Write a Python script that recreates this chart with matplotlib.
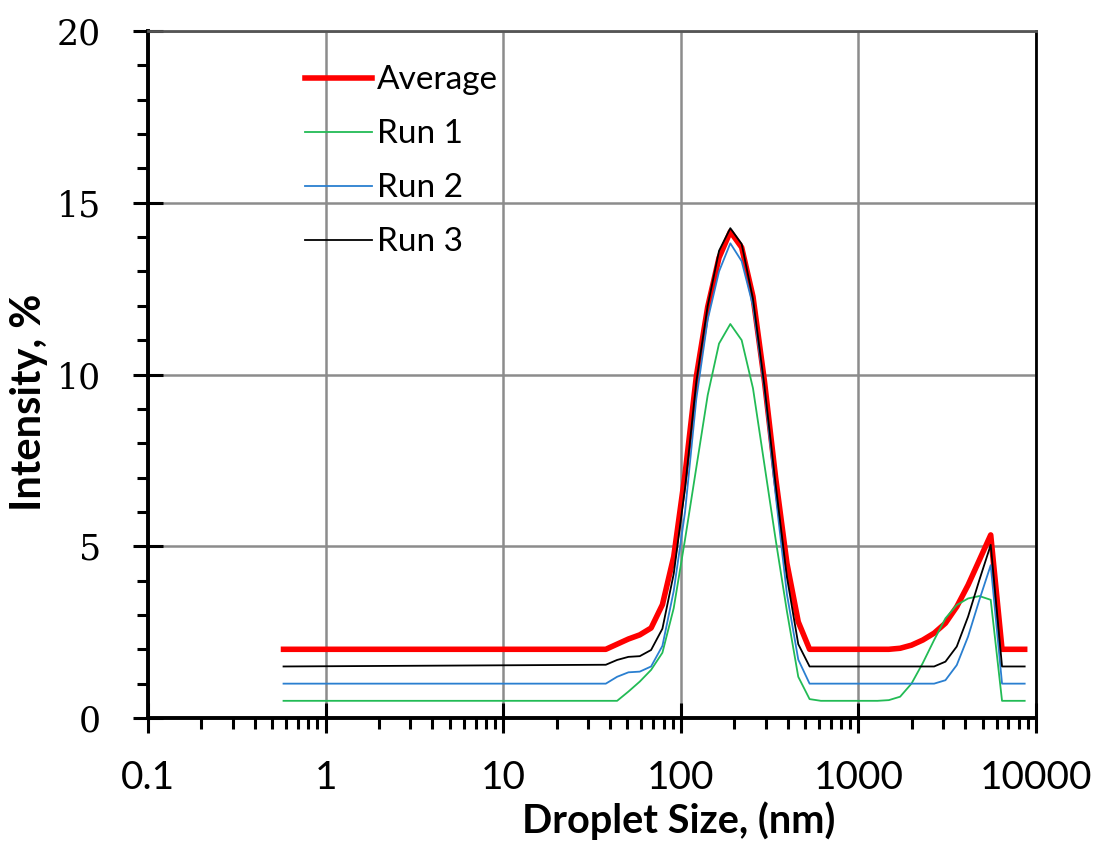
import numpy as np
import matplotlib
matplotlib.use("Agg")
import matplotlib.pyplot as plt
from matplotlib.ticker import FixedLocator, NullFormatter, FixedFormatter

# droplet size bins (nm)
size = [0.58, 37.84, 43.82, 50.75, 58.77, 68.06, 78.82, 91.28, 105.7, 122.4,
        141.8, 164.2, 190.1, 220.2, 255.0, 295.3, 342.0, 396.1, 458.7, 531.2,
        615.1, 1281, 1484, 1718, 1990, 2305, 2669, 3091, 3580, 4145, 4801,
        5560, 6439, 7456, 8635]

average = [2.0, 2.0, 2.15, 2.3, 2.42, 2.62, 3.3, 4.7, 7.1, 9.95,
           11.97, 13.4, 14.16, 13.7, 12.27, 9.84, 7.0, 4.5, 2.8, 2.0,
           2.0, 2.0, 2.0, 2.03, 2.12, 2.27, 2.47, 2.76, 3.24, 3.87, 4.6,
           5.33, 2.0, 2.0, 2.0]
run1 = [0.5, 0.5, 0.5, 0.77, 1.06, 1.4, 1.9, 3.2, 5.2, 7.3,
        9.4, 10.9, 11.47, 11.0, 9.6, 7.4, 5.2, 3.1, 1.2, 0.55,
        0.5, 0.5, 0.52, 0.62, 1.0, 1.6, 2.27, 2.9, 3.29, 3.48, 3.55,
        3.44, 0.5, 0.5, 0.5]
run2 = [1.0, 1.0, 1.2, 1.33, 1.35, 1.5, 2.1, 3.7, 6.0, 9.3,
        11.6, 13.0, 13.82, 13.3, 12.0, 9.6, 6.5, 3.6, 1.7, 1.0,
        1.0, 1.0, 1.0, 1.0, 1.0, 1.0, 1.0, 1.1, 1.54, 2.37, 3.44,
        4.45, 1.0, 1.0, 1.0]
run3 = [1.5, 1.55, 1.69, 1.78, 1.8, 1.98, 2.6, 4.2, 6.7, 9.8,
        12.0, 13.6, 14.26, 13.8, 12.2, 9.7, 6.8, 4.1, 2.15, 1.5,
        1.5, 1.5, 1.5, 1.5, 1.5, 1.5, 1.5, 1.64, 2.08, 2.95, 4.02,
        5.04, 1.5, 1.5, 1.5]

x_ticks = [0.1, 1, 10, 100, 1000, 10000]
x_labels = ["0.1", "1", "10", "100", "1000", "10000"]
y_ticks = [0, 5, 10, 15, 20]

fig = plt.figure(figsize=(11.04, 8.5), dpi=100)
ax = fig.add_axes([0.134, 0.1553, 0.8044, 0.8082])

ax.plot(size, average, color="#ff0000", lw=4.0, label="Average", zorder=3)
ax.plot(size, run1, color="#22bb55", lw=1.3, label="Run 1", zorder=4)
ax.plot(size, run2, color="#2a7fd0", lw=1.3, label="Run 2", zorder=4)
ax.plot(size, run3, color="black", lw=1.3, label="Run 3", zorder=5)

ax.set_xscale("log")
ax.set_xlim(0.1, 10000)
ax.set_ylim(0, 20)

ax.xaxis.set_major_locator(FixedLocator(x_ticks))
ax.xaxis.set_major_formatter(FixedFormatter(x_labels))
minors = [m * 10.0 ** e for e in range(-1, 4) for m in range(2, 10)]
ax.xaxis.set_minor_locator(FixedLocator(minors))
ax.xaxis.set_minor_formatter(NullFormatter())
ax.set_yticks(y_ticks)
ax.set_yticks(np.arange(0, 21, 1), minor=True)

ax.grid(True, which="major", color="#8c8c8c", lw=1.8)
ax.set_axisbelow(True)

ax.tick_params(which="major", direction="inout", length=22, width=2.2,
               color="black")
ax.tick_params(which="minor", direction="out", length=8, width=2.2,
               color="black")
ax.tick_params(axis="x", which="major", labelsize=28, pad=19)
ax.tick_params(axis="y", which="major", labelsize=25, pad=23)
for lab in ax.get_xticklabels():
    lab.set_family(["Liberation Sans Narrow", "Lato", "DejaVu Sans"])
for lab in ax.get_yticklabels():
    lab.set_family(["DejaVu Serif"])

for s in ["left", "bottom"]:
    ax.spines[s].set_linewidth(2.8)
    ax.spines[s].set_color("black")
ax.spines["right"].set_linewidth(2.0)
ax.spines["right"].set_color("black")
ax.spines["top"].set_linewidth(2.0)
ax.spines["top"].set_color("#555555")

ax.set_xlabel("Droplet Size, (nm)", fontsize=28.5, fontweight="bold",
              family=["Lato", "DejaVu Sans"])
ax.set_ylabel("Intensity, %", fontsize=30, fontweight="bold",
              family=["Lato", "DejaVu Sans"])
ax.yaxis.set_label_coords(-0.113, 0.46)
ax.xaxis.set_label_coords(0.598, -0.121)

leg = ax.legend(loc="upper left", bbox_to_anchor=(0.177, 0.95), frameon=False,
                handlelength=2.0, handletextpad=0.15, borderpad=0,
                borderaxespad=0, labelspacing=0.72,
                prop={"family": ["Lato", "DejaVu Sans"], "size": 24})

fig.savefig("out.png", dpi=100)
